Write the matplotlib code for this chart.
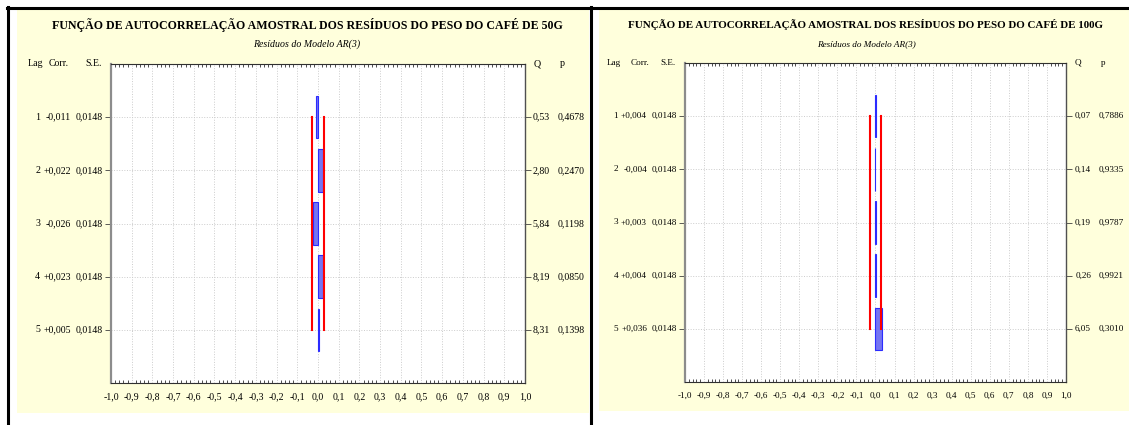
import numpy as np
import matplotlib
matplotlib.use('Agg')
import matplotlib.pyplot as plt
from matplotlib.patches import Rectangle
from matplotlib.lines import Line2D

plt.rcParams['font.family'] = ['Liberation Serif', 'DejaVu Serif']

# autocorrelation of AR(3) residuals, coffee weights
lags = [1, 2, 3, 4, 5]

corr_50 = [-0.011, 0.022, -0.026, 0.023, 0.005]
se_50 = [0.0148, 0.0148, 0.0148, 0.0148, 0.0148]
q_50 = [0.53, 2.80, 5.84, 8.19, 8.31]
p_50 = [0.4678, 0.2470, 0.1198, 0.0850, 0.1398]

corr_100 = [0.004, -0.004, 0.003, 0.004, 0.036]
se_100 = [0.0148, 0.0148, 0.0148, 0.0148, 0.0148]
q_100 = [0.07, 0.14, 0.19, 0.26, 6.05]
p_100 = [0.7886, 0.9335, 0.9787, 0.9921, 0.3010]

x_ticks = [-1.0, -0.9, -0.8, -0.7, -0.6, -0.5, -0.4, -0.3, -0.2, -0.1, 0.0,
           0.1, 0.2, 0.3, 0.4, 0.5, 0.6, 0.7, 0.8, 0.9, 1.0]

titles = ['FUNÇÃO DE AUTOCORRELAÇÃO AMOSTRAL DOS RESÍDUOS DO PESO DO CAFÉ DE 50G',
          'FUNÇÃO DE AUTOCORRELAÇÃO AMOSTRAL DOS RESÍDUOS DO PESO DO CAFÉ DE 100G']
subtitle = 'Resíduos do Modelo AR(3)'

W, H = 1129, 425
fig = plt.figure(figsize=(W / 100, H / 100), dpi=100)
fig.patch.set_facecolor('white')

def fx(px):
    return px / W

def fy(py):
    return 1 - py / H

def dec(v, nd, sign=False):
    s = ('{:+.%df}' % nd if sign else '{:.%df}' % nd).format(v)
    return s.replace('.', ',')

yellow = '#ffffdc'
# panel backgrounds
fig.patches.append(Rectangle((fx(17), fy(413)), fx(589) - fx(17), fy(9) - fy(413),
                             transform=fig.transFigure, facecolor=yellow, edgecolor='none', zorder=-5))
fig.patches.append(Rectangle((fx(599), fy(411)), fx(1129) - fx(599), fy(10) - fy(411),
                             transform=fig.transFigure, facecolor=yellow, edgecolor='none', zorder=-5))
# black frame lines
for xs, ys in [((7, 1129), (8, 8)), ((8, 8), (7, 425)), ((591, 591), (7, 425))]:
    fig.lines.append(Line2D([fx(xs[0]), fx(xs[1])], [fy(ys[0]), fy(ys[1])],
                            transform=fig.transFigure, color='black', lw=2.2, zorder=-4))

def panel(box, title_x, title, corr, se, q, p, fs, cols, heads):
    x0, y0, x1, y1 = box
    ax = fig.add_axes([fx(x0), fy(y1), fx(x1) - fx(x0), fy(y0) - fy(y1)])
    ax.set_facecolor('white')
    ax.set_xlim(-1, 1)
    ax.set_ylim(6, 0)

    ax.set_xticks(x_ticks)
    ax.set_xticklabels([dec(t, 1) for t in x_ticks], fontsize=fs)
    ax.set_xticks(np.arange(-1, 1.001, 0.02), minor=True)
    ax.tick_params(axis='x', which='major', length=0, pad=7)
    ax.tick_params(axis='x', which='minor', direction='in', length=2, width=0.6,
                   top=True, bottom=True, color='#303030')
    ax.set_yticks(lags)
    ax.set_yticklabels([])
    ax.tick_params(axis='y', left=True, right=True, direction='out', length=4,
                   width=0.6, color='#404040')
    ax.grid(True, which='major', color='#cccccc', linestyle=':', linewidth=0.7)
    ax.set_axisbelow(True)

    ax.spines['left'].set_color('#8c8c8c')
    ax.spines['left'].set_linewidth(1.6)
    ax.spines['right'].set_color('#505050')
    ax.spines['right'].set_linewidth(1.0)
    for s in ['top', 'bottom']:
        ax.spines[s].set_color('#303030')
        ax.spines[s].set_linewidth(0.8)

    ax.barh(lags, corr, height=0.8, left=0, color='#7474f2', edgecolor='#2b2bff',
            linewidth=0.8, zorder=3)
    lim = 2 * np.array(se)
    ax.plot(lim, lags, color='red', lw=1.5, zorder=4)
    ax.plot(-lim, lags, color='red', lw=1.5, zorder=4)

    # table on the left: lag, correlation, standard error; on the right: Q, p
    kw = dict(xycoords=('axes fraction', 'data'), textcoords='offset pixels',
              va='center', fontsize=fs)
    for lag, c, s, qq, pp in zip(lags, corr, se, q, p):
        ax.annotate(str(lag), xy=(0, lag), xytext=(cols[0], 0), ha='right', **kw)
        ax.annotate(dec(c, 3, sign=True), xy=(0, lag), xytext=(cols[1], 0), ha='right', **kw)
        ax.annotate(dec(s, 4), xy=(0, lag), xytext=(cols[2], 0), ha='right', **kw)
        ax.annotate(dec(qq, 2), xy=(1, lag), xytext=(25, 0), ha='right', **kw)
        ax.annotate(dec(pp, 4), xy=(1, lag), xytext=(33, 0), ha='left', **kw)

    hk = dict(xycoords='axes fraction', textcoords='offset pixels', va='center', fontsize=fs)
    ax.annotate('Lag', xy=(0, 1), xytext=(heads[0], 0), ha='center', **hk)
    ax.annotate('Corr.', xy=(0, 1), xytext=(heads[1], 0), ha='center', **hk)
    ax.annotate('S.E.', xy=(0, 1), xytext=(heads[2], 0), ha='center', **hk)
    ax.annotate('Q', xy=(1, 1), xytext=(12, 0), ha='center', **hk)
    ax.annotate('p', xy=(1, 1), xytext=(37, 0), ha='center', **hk)

    fig.text(fx(title_x), fy(25), title, ha='center', va='center',
             fontsize=fs * 1.2, fontweight='bold')
    fig.text(fx(title_x), fy(44), subtitle, ha='center', va='center',
             fontsize=fs, style='italic')
    return ax

panel((111, 64, 525, 383), 307, titles[0], corr_50, se_50, q_50, p_50, 7.1,
      (-71, -40, -8), (-75, -52, -17))
panel((685, 63, 1066, 382), 866, titles[1], corr_100, se_100, q_100, p_100, 6.6,
      (-67, -38, -8), (-71, -45, -17))

fig.savefig('out.png', dpi=100)
